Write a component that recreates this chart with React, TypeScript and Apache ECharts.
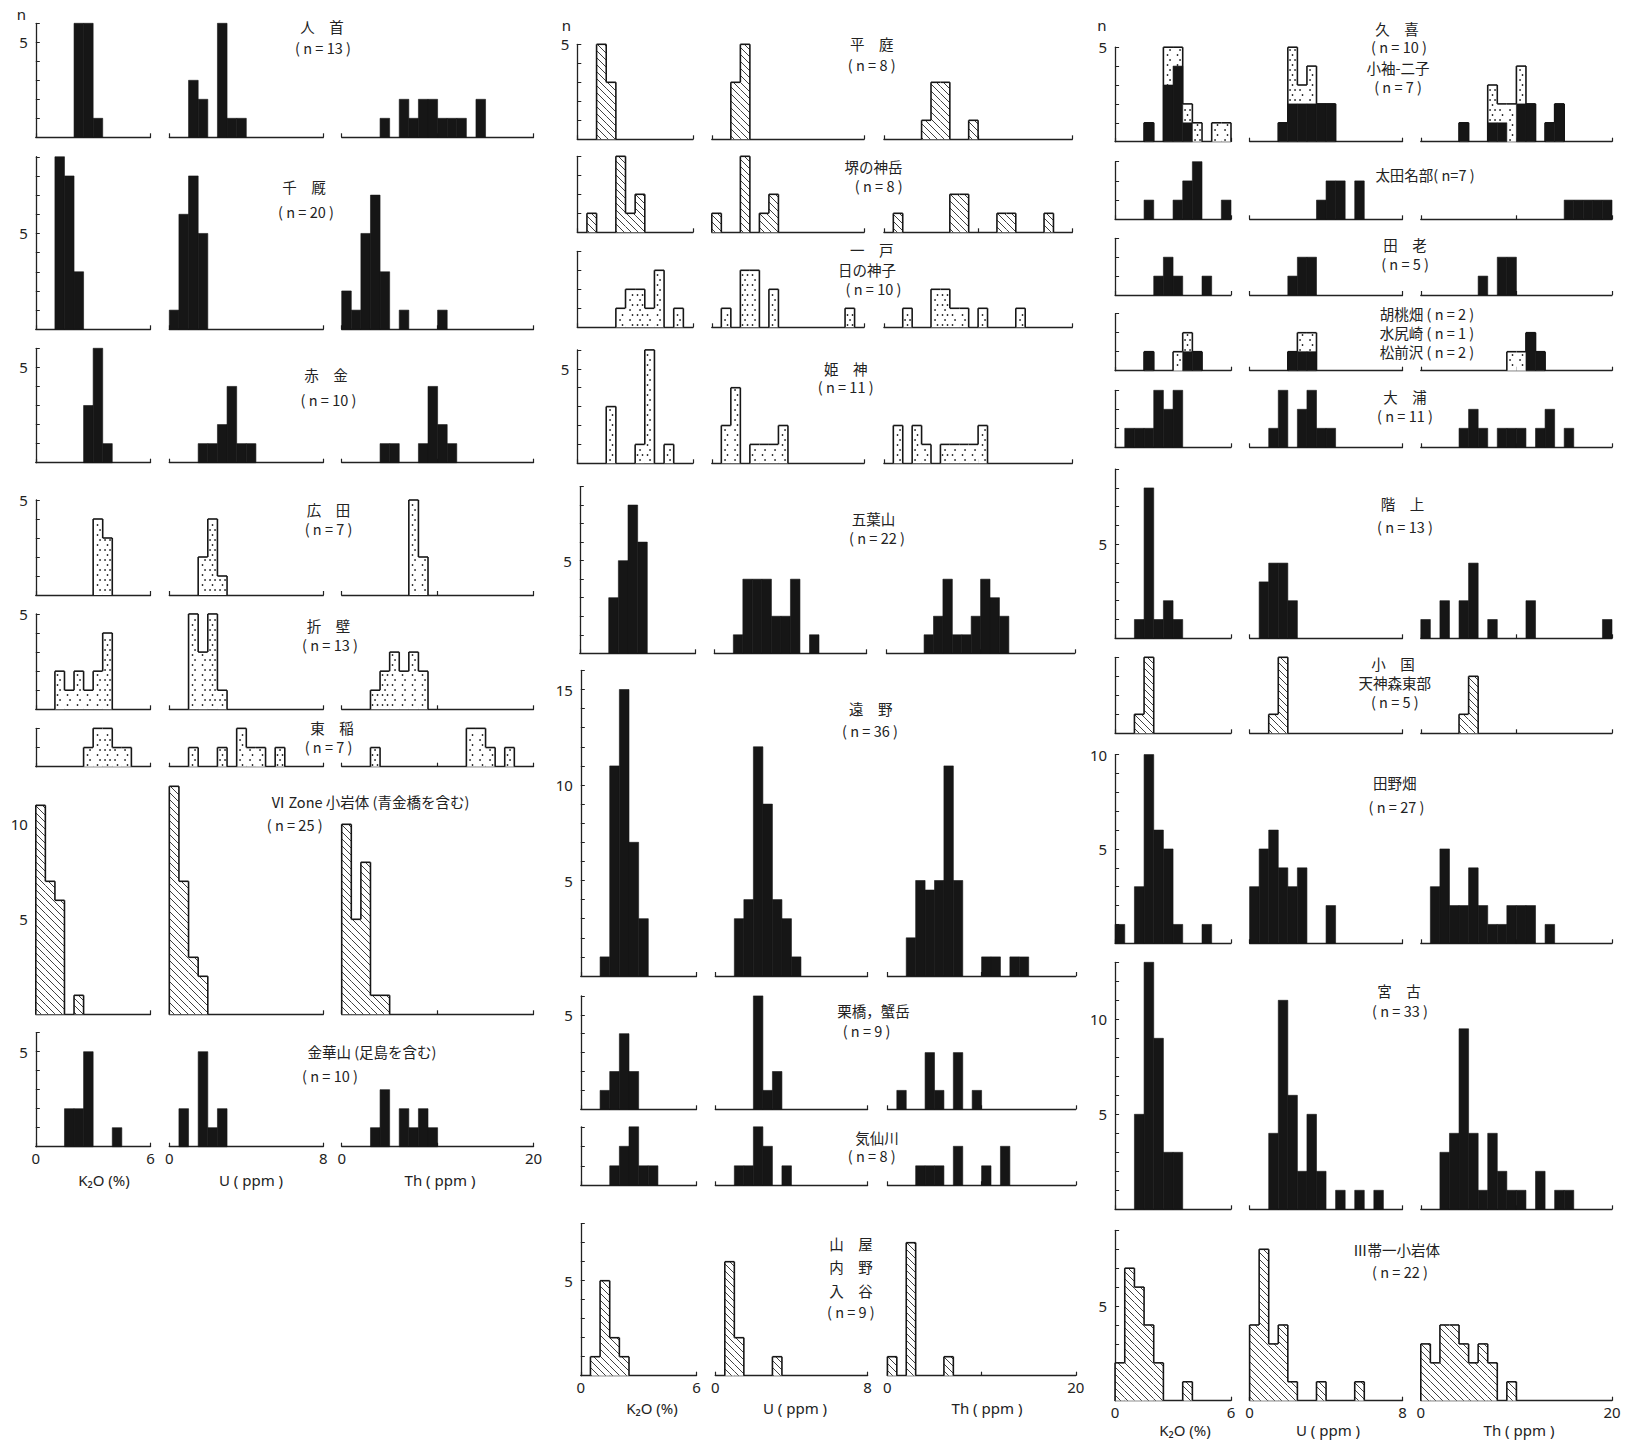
import React, { useEffect, useRef } from 'react';
import * as echarts from 'echarts';

// ---------- axis definitions ----------
const K2O_BIN = 0.5;
const U_BIN = 0.5;
const TH_BIN = 1;
const K2O_MAX = 6;
const U_MAX = 8;
const TH_MAX = 20;

// ---------- counts per bin (K2O: 0.5 %, U: 0.5 ppm, Th: 1 ppm) ----------
// Column 1
const hitokabeK = [0, 0, 0, 0, 6, 6, 1, 0, 0, 0, 0, 0];
const hitokabeU = [0, 0, 3, 2, 0, 6, 1, 1, 0, 0, 0, 0, 0, 0, 0, 0];
const hitokabeTh = [0, 0, 0, 0, 1, 0, 2, 1, 2, 2, 1, 1, 1, 0, 2, 0, 0, 0, 0, 0];

const senmayaK = [0, 0, 9, 8, 3, 0, 0, 0, 0, 0, 0, 0];
const senmayaU = [1, 6, 8, 5, 0, 0, 0, 0, 0, 0, 0, 0, 0, 0, 0, 0];
const senmayaTh = [2, 1, 5, 7, 3, 0, 1, 0, 0, 0, 1, 0, 0, 0, 0, 0, 0, 0, 0, 0];

const akaganeK = [0, 0, 0, 0, 0, 3, 6, 1, 0, 0, 0, 0];
const akaganeU = [0, 0, 0, 1, 1, 2, 4, 1, 1, 0, 0, 0, 0, 0, 0, 0];
const akaganeTh = [0, 0, 0, 0, 1, 1, 0, 0, 1, 4, 2, 1, 0, 0, 0, 0, 0, 0, 0, 0];

const hirodaK = [0, 0, 0, 0, 0, 0, 4, 3, 0, 0, 0, 0];
const hirodaU = [0, 0, 0, 2, 4, 1, 0, 0, 0, 0, 0, 0, 0, 0, 0, 0];
const hirodaTh = [0, 0, 0, 0, 0, 0, 0, 5, 2, 0, 0, 0, 0, 0, 0, 0, 0, 0, 0, 0];

const orikabeK = [0, 0, 2, 1, 2, 1, 2, 4, 0, 0, 0, 0];
const orikabeU = [0, 0, 5, 3, 5, 1, 0, 0, 0, 0, 0, 0, 0, 0, 0, 0];
const orikabeTh = [0, 0, 0, 1, 2, 3, 2, 3, 2, 0, 0, 0, 0, 0, 0, 0, 0, 0, 0, 0];

const tohineK = [0, 0, 0, 0, 0, 1, 2, 2, 1, 1, 0, 0];
const tohineU = [0, 0, 1, 0, 0, 1, 0, 2, 1, 1, 0, 1, 0, 0, 0, 0];
const tohineTh = [0, 0, 0, 1, 0, 0, 0, 0, 0, 0, 0, 0, 0, 2, 2, 1, 0, 1, 0, 0];

const zone6K = [11, 7, 6, 0, 1, 0, 0, 0, 0, 0, 0, 0];
const zone6U = [12, 7, 3, 2, 0, 0, 0, 0, 0, 0, 0, 0, 0, 0, 0, 0];
const zone6Th = [10, 5, 8, 1, 1, 0, 0, 0, 0, 0, 0, 0, 0, 0, 0, 0, 0, 0, 0, 0];

const kinkasanK = [0, 0, 0, 2, 2, 5, 0, 0, 1, 0, 0, 0];
const kinkasanU = [0, 2, 0, 5, 1, 2, 0, 0, 0, 0, 0, 0, 0, 0, 0, 0];
const kinkasanTh = [0, 0, 0, 1, 3, 0, 2, 1, 2, 1, 0, 0, 0, 0, 0, 0, 0, 0, 0, 0];

// Column 2
const hiraniwaK = [0, 0, 5, 3, 0, 0, 0, 0, 0, 0, 0, 0];
const hiraniwaU = [0, 0, 3, 5, 0, 0, 0, 0, 0, 0, 0, 0, 0, 0, 0, 0];
const hiraniwaTh = [0, 0, 0, 0, 1, 3, 3, 0, 0, 1, 0, 0, 0, 0, 0, 0, 0, 0, 0, 0];

const sakaiK = [0, 1, 0, 0, 4, 1, 2, 0, 0, 0, 0, 0];
const sakaiU = [1, 0, 0, 4, 0, 1, 2, 0, 0, 0, 0, 0, 0, 0, 0, 0];
const sakaiTh = [0, 1, 0, 0, 0, 0, 0, 2, 2, 0, 0, 0, 1, 1, 0, 0, 0, 1, 0, 0];

const ichinoheK = [0, 0, 0, 0, 1, 2, 2, 1, 3, 0, 1, 0];
const ichinoheU = [0, 1, 0, 3, 3, 0, 2, 0, 0, 0, 0, 0, 0, 0, 1, 0];
const ichinoheTh = [0, 0, 1, 0, 0, 2, 2, 1, 1, 0, 1, 0, 0, 0, 1, 0, 0, 0, 0, 0];

const himekamiK = [0, 0, 0, 3, 0, 0, 1, 6, 0, 1, 0, 0];
const himekamiU = [0, 2, 4, 0, 1, 1, 1, 2, 0, 0, 0, 0, 0, 0, 0, 0];
const himekamiTh = [0, 2, 0, 2, 1, 0, 1, 1, 1, 1, 2, 0, 0, 0, 0, 0, 0, 0, 0, 0];

const goyosanK = [0, 0, 0, 3, 5, 8, 6, 0, 0, 0, 0, 0];
const goyosanU = [0, 0, 1, 4, 4, 4, 2, 2, 4, 0, 1, 0, 0, 0, 0, 0];
const goyosanTh = [0, 0, 0, 0, 1, 2, 4, 1, 1, 2, 4, 3, 2, 0, 0, 0, 0, 0, 0, 0];

const tonoK = [0, 0, 1, 11, 15, 7, 3, 0, 0, 0, 0, 0];
const tonoU = [0, 0, 3, 4, 12, 9, 4, 3, 1, 0, 0, 0, 0, 0, 0, 0];
const tonoTh = [0, 0, 2, 5, 4.5, 5, 11, 5, 0, 0, 1, 1, 0, 1, 1, 0, 0, 0, 0, 0];

const kurihashiK = [0, 0, 1, 2, 4, 2, 0, 0, 0, 0, 0, 0];
const kurihashiU = [0, 0, 0, 0, 6, 1, 2, 0, 0, 0, 0, 0, 0, 0, 0, 0];
const kurihashiTh = [0, 1, 0, 0, 3, 1, 0, 3, 0, 1, 0, 0, 0, 0, 0, 0, 0, 0, 0, 0];

const kesenK = [0, 0, 0, 1, 2, 3, 1, 1, 0, 0, 0, 0];
const kesenU = [0, 0, 1, 1, 3, 2, 0, 1, 0, 0, 0, 0, 0, 0, 0, 0];
const kesenTh = [0, 0, 0, 1, 1, 1, 0, 2, 0, 0, 1, 0, 2, 0, 0, 0, 0, 0, 0, 0];

const yamayaK = [0, 1, 5, 2, 1, 0, 0, 0, 0, 0, 0, 0];
const yamayaU = [0, 6, 2, 0, 0, 0, 1, 0, 0, 0, 0, 0, 0, 0, 0, 0];
const yamayaTh = [1, 0, 7, 0, 0, 0, 1, 0, 0, 0, 0, 0, 0, 0, 0, 0, 0, 0, 0, 0];

// Column 3
const kukiK = [0, 0, 0, 1, 0, 3, 4, 1, 0, 0, 0, 0];
const kukiU = [0, 0, 0, 1, 2, 2, 2, 2, 2, 0, 0, 0, 0, 0, 0, 0];
const kukiTh = [0, 0, 0, 0, 1, 0, 0, 1, 1, 0, 2, 2, 0, 1, 2, 0, 0, 0, 0, 0];
const kosodeK = [0, 0, 0, 0, 0, 2, 1, 1, 1, 0, 1, 1];
const kosodeU = [0, 0, 0, 0, 3, 1, 2, 0, 0, 0, 0, 0, 0, 0, 0, 0];
const kosodeTh = [0, 0, 0, 0, 0, 0, 0, 2, 1, 2, 2, 0, 0, 0, 0, 0, 0, 0, 0, 0];

const otanabeK = [0, 0, 0, 1, 0, 0, 1, 2, 3, 0, 0, 1];
const otanabeU = [0, 0, 0, 0, 0, 0, 0, 1, 2, 2, 0, 2, 0, 0, 0, 0];
const otanabeTh = [0, 0, 0, 0, 0, 0, 0, 0, 0, 0, 0, 0, 0, 0, 0, 1, 1, 1, 1, 1];

const taroK = [0, 0, 0, 0, 1, 2, 1, 0, 0, 1, 0, 0];
const taroU = [0, 0, 0, 0, 1, 2, 2, 0, 0, 0, 0, 0, 0, 0, 0, 0];
const taroTh = [0, 0, 0, 0, 0, 0, 1, 0, 2, 2, 0, 0, 0, 0, 0, 0, 0, 0, 0, 0];

const kurumiK = [0, 0, 0, 1, 0, 0, 0, 1, 1, 0, 0, 0];
const kurumiU = [0, 0, 0, 0, 1, 1, 1, 0, 0, 0, 0, 0, 0, 0, 0, 0];
const kurumiTh = [0, 0, 0, 0, 0, 0, 0, 0, 0, 0, 0, 2, 1, 0, 0, 0, 0, 0, 0, 0];
const mizushiriK = [0, 0, 0, 0, 0, 0, 1, 1, 0, 0, 0, 0];
const mizushiriU = [0, 0, 0, 0, 0, 1, 1, 0, 0, 0, 0, 0, 0, 0, 0, 0];
const mizushiriTh = [0, 0, 0, 0, 0, 0, 0, 0, 0, 1, 1, 0, 0, 0, 0, 0, 0, 0, 0, 0];

const ouraK = [0, 1, 1, 1, 3, 2, 3, 0, 0, 0, 0, 0];
const ouraU = [0, 0, 1, 3, 0, 2, 3, 1, 1, 0, 0, 0, 0, 0, 0, 0];
const ouraTh = [0, 0, 0, 0, 1, 2, 1, 0, 1, 1, 1, 0, 1, 2, 0, 1, 0, 0, 0, 0];

const hashikamiK = [0, 0, 1, 8, 1, 2, 1, 0, 0, 0, 0, 0];
const hashikamiU = [0, 3, 4, 4, 2, 0, 0, 0, 0, 0, 0, 0, 0, 0, 0, 0];
const hashikamiTh = [1, 0, 2, 0, 2, 4, 0, 1, 0, 0, 0, 2, 0, 0, 0, 0, 0, 0, 0, 1];

const oguniK = [0, 0, 1, 4, 0, 0, 0, 0, 0, 0, 0, 0];
const oguniU = [0, 0, 1, 4, 0, 0, 0, 0, 0, 0, 0, 0, 0, 0, 0, 0];
const oguniTh = [0, 0, 0, 0, 1, 3, 0, 0, 0, 0, 0, 0, 0, 0, 0, 0, 0, 0, 0, 0];

const tanohataK = [1, 0, 3, 10, 6, 5, 1, 0, 0, 1, 0, 0];
const tanohataU = [3, 5, 6, 4, 3, 4, 0, 0, 2, 0, 0, 0, 0, 0, 0, 0];
const tanohataTh = [0, 3, 5, 2, 2, 4, 2, 1, 1, 2, 2, 2, 0, 1, 0, 0, 0, 0, 0, 0];

const miyakoK = [0, 0, 5, 13, 9, 3, 3, 0, 0, 0, 0, 0];
const miyakoU = [0, 0, 4, 11, 6, 2, 5, 2, 0, 1, 0, 1, 0, 1, 0, 0];
const miyakoTh = [0, 0, 3, 4, 9.5, 4, 1, 4, 2, 1, 1, 0, 2, 0, 1, 1, 0, 0, 0, 0];

const zone3K = [2, 7, 6, 4, 2, 0, 0, 1, 0, 0, 0, 0];
const zone3U = [4, 8, 3, 4, 1, 0, 0, 1, 0, 0, 0, 1, 0, 0, 0, 0];
const zone3Th = [3, 2, 4, 4, 3, 2, 3, 2, 0, 1, 0, 0, 0, 0, 0, 0, 0, 0, 0, 0];

// ---------- layout (pixels) ----------
const COL_X = [
  { k: [35.8, 150.5], u: [169.3, 323.3], th: [341.7, 533.5] },
  { k: [580.8, 696.5], u: [715.3, 867.6], th: [887.4, 1075.8] },
  { k: [1115.1, 1231], u: [1249.6, 1402.5], th: [1420.8, 1612] },
];

type Panel = {
  col: number; base: number; pc: number; ymax: number; dx?: number;
  fill: 'solid' | 'dots' | 'hatch';
  k: number[]; u: number[]; th: number[];
  over?: number[][]; xLabels?: boolean;
};

const PANELS: Panel[] = [
  { col: 0, base: 137.3, pc: 19, ymax: 6, fill: 'solid', k: hitokabeK, u: hitokabeU, th: hitokabeTh },
  { col: 0, base: 329.3, pc: 19.17, ymax: 9, fill: 'solid', k: senmayaK, u: senmayaU, th: senmayaTh },
  { col: 0, base: 462.7, pc: 19.07, ymax: 6, fill: 'solid', k: akaganeK, u: akaganeU, th: akaganeTh },
  { col: 0, base: 595, pc: 19, ymax: 5, fill: 'dots', k: hirodaK, u: hirodaU, th: hirodaTh },
  { col: 0, base: 709.3, pc: 19.07, ymax: 5, fill: 'dots', k: orikabeK, u: orikabeU, th: orikabeTh },
  { col: 0, base: 766.7, pc: 19.17, ymax: 2, fill: 'dots', k: tohineK, u: tohineU, th: tohineTh },
  { col: 0, base: 1014.3, pc: 19, ymax: 11, fill: 'hatch', k: zone6K, u: zone6U, th: zone6Th },
  { col: 0, base: 1146.7, pc: 19, ymax: 6, fill: 'solid', k: kinkasanK, u: kinkasanU, th: kinkasanTh, xLabels: true },

  { col: 1, base: 139.3, pc: 19, ymax: 5, dx: -3.5, fill: 'hatch', k: hiraniwaK, u: hiraniwaU, th: hiraniwaTh },
  { col: 1, base: 232.3, pc: 19, ymax: 4, dx: -3.5, fill: 'hatch', k: sakaiK, u: sakaiU, th: sakaiTh },
  { col: 1, base: 327.3, pc: 19, ymax: 4, dx: -3.5, fill: 'dots', k: ichinoheK, u: ichinoheU, th: ichinoheTh },
  { col: 1, base: 463.3, pc: 18.9, ymax: 6, dx: -3.5, fill: 'dots', k: himekamiK, u: himekamiU, th: himekamiTh },
  { col: 1, base: 653.3, pc: 18.53, ymax: 9, dx: -1, fill: 'solid', k: goyosanK, u: goyosanU, th: goyosanTh },
  { col: 1, base: 976, pc: 19.1, ymax: 16, fill: 'solid', k: tonoK, u: tonoU, th: tonoTh },
  { col: 1, base: 1109.3, pc: 18.9, ymax: 6, fill: 'solid', k: kurihashiK, u: kurihashiU, th: kurihashiTh },
  { col: 1, base: 1185.3, pc: 19.5, ymax: 3, fill: 'solid', k: kesenK, u: kesenU, th: kesenTh },
  { col: 1, base: 1375.7, pc: 19, ymax: 8, fill: 'hatch', k: yamayaK, u: yamayaU, th: yamayaTh, xLabels: true },

  { col: 2, base: 141.7, pc: 18.9, ymax: 5, fill: 'solid', k: kukiK, u: kukiU, th: kukiTh, over: [kosodeK, kosodeU, kosodeTh] },
  { col: 2, base: 219.3, pc: 19.2, ymax: 3, fill: 'solid', k: otanabeK, u: otanabeU, th: otanabeTh },
  { col: 2, base: 295, pc: 18.9, ymax: 3, fill: 'solid', k: taroK, u: taroU, th: taroTh },
  { col: 2, base: 370.7, pc: 19, ymax: 3, fill: 'solid', k: kurumiK, u: kurumiU, th: kurumiTh, over: [mizushiriK, mizushiriU, mizushiriTh] },
  { col: 2, base: 447.3, pc: 19, ymax: 3, fill: 'solid', k: ouraK, u: ouraU, th: ouraTh },
  { col: 2, base: 638.3, pc: 18.8, ymax: 9, fill: 'solid', k: hashikamiK, u: hashikamiU, th: hashikamiTh },
  { col: 2, base: 733.3, pc: 19, ymax: 4, fill: 'hatch', k: oguniK, u: oguniU, th: oguniTh },
  { col: 2, base: 943.3, pc: 18.87, ymax: 10, fill: 'solid', k: tanohataK, u: tanohataU, th: tanohataTh },
  { col: 2, base: 1209.3, pc: 19, ymax: 13, fill: 'solid', k: miyakoK, u: miyakoU, th: miyakoTh },
  { col: 2, base: 1400.7, pc: 18.93, ymax: 9, fill: 'hatch', k: zone3K, u: zone3U, th: zone3Th, xLabels: true },
];

// titles: [text, x, y]
const TITLES: [string, number, number][] = [
  ['人　首', 322, 26.7], ['( n = 13 )', 323, 47.7],
  ['千　厩', 304, 186.7], ['( n = 20 )', 306, 211.7],
  ['赤　金', 326, 374], ['( n = 10 )', 328.5, 399],
  ['広　田', 328.5, 509.3], ['( n = 7 )', 328.5, 528.3],
  ['折　壁', 328.5, 625], ['( n = 13 )', 330, 644],
  ['東　稲', 332, 727.5], ['( n = 7 )', 328.5, 746.2],
  ['Ⅵ Zone 小岩体 (青金橋を含む)', 370, 801.7], ['( n = 25 )', 294.7, 824],
  ['金華山 (足島を含む)', 372, 1051.7], ['( n = 10 )', 330, 1075],

  ['平　庭', 871.7, 43.3], ['( n = 8 )', 871.7, 64.3],
  ['堺の神岳', 873.5, 166.7], ['( n = 8 )', 878.7, 185.7],
  ['一　戸', 871.7, 249], ['日の神子', 867, 269.5], ['( n = 10 )', 873.5, 288.5],
  ['姫　神', 845.7, 368], ['( n = 11 )', 845.7, 386.9],
  ['五葉山', 873.5, 518.3], ['( n = 22 )', 877, 537],
  ['遠　野', 870.7, 708.3], ['( n = 36 )', 870, 730],
  ['栗橋，蟹岳', 873.5, 1010.7], ['( n = 9 )', 866.5, 1030],
  ['気仙川', 877, 1137], ['( n = 8 )', 871.7, 1155.9],
  ['山　屋', 850.9, 1243.3], ['内　野', 850.9, 1266.7], ['入　谷', 850.9, 1290.7], ['( n = 9 )', 850.9, 1311],

  ['久　喜', 1397, 28], ['( n = 10 )', 1399, 46.6], ['小袖-二子', 1398, 67.4], ['( n = 7 )', 1398, 86.2],
  ['太田名部( n=7 )', 1425, 174.5],
  ['田　老', 1405, 244.3], ['( n = 5 )', 1405, 263],
  ['胡桃畑 ( n = 2 )', 1427, 313.3], ['水尻崎 ( n = 1 )', 1427, 332.7], ['松前沢 ( n = 2 )', 1427, 351.7],
  ['大　浦', 1405, 396.5], ['( n = 11 )', 1405, 415],
  ['階　上', 1402.5, 503], ['( n = 13 )', 1405, 526],
  ['小　国', 1393, 663.5], ['天神森東部', 1394.8, 682.7], ['( n = 5 )', 1394.8, 701.9],
  ['田野畑', 1394.8, 782.2], ['( n = 27 )', 1396.5, 806.7],
  ['宮　古', 1399, 990], ['( n = 33 )', 1400, 1010.7],
  ['Ⅲ帯一小岩体', 1396.5, 1249], ['( n = 22 )', 1400, 1271.7],
];

const AXIS_NAMES: [string, number, number][] = [
  ['K₂O (%)', 104, 1180], ['U ( ppm )', 251, 1180], ['Th ( ppm )', 440, 1180],
  ['K₂O (%)', 652, 1408], ['U ( ppm )', 795, 1408], ['Th ( ppm )', 987, 1408],
  ['K₂O (%)', 1185, 1430], ['U ( ppm )', 1328, 1430], ['Th ( ppm )', 1519, 1430],
];

const N_LABELS: [number, number][] = [[21.5, 14], [566.5, 25], [1102, 24.5]];

// ---------- rendering helpers ----------
const INK = '#161616';
const HATCH_STEP = 7;
const DOT_DX = 5;
const DOT_DY = 5;
const CJK = '"Noto Sans CJK JP", "Noto Sans", sans-serif';
const TITLE_SIZE = 14.5;

function binItems(counts: number[], binW: number) {
  const items: number[][] = [];
  counts.forEach((c, i) => {
    if (c > 0) items.push([i * binW, (i + 1) * binW, c, counts[i - 1] || 0, counts[i + 1] || 0]);
  });
  return items;
}

function makeRenderer(kind: string) {
  return function (_params: any, api: any) {
    const x0 = api.value(0), x1 = api.value(1), h = api.value(2), hp = api.value(3), hn = api.value(4);
    const tl = api.coord([x0, h]);
    const br = api.coord([x1, 0]);
    const L = tl[0], T = tl[1], R = br[0], B = br[1];
    const ch: any[] = [];
    if (kind === 'solid') {
      ch.push({ type: 'rect', shape: { x: L, y: T, width: R - L, height: B - T }, style: { fill: INK, stroke: INK, lineWidth: 0.6 } });
      return { type: 'group', children: ch };
    }
    ch.push({ type: 'rect', shape: { x: L, y: T, width: R - L, height: B - T }, style: { fill: '#fff' } });
    if (kind === 'hatch') {
      const cMin = Math.ceil((T - R) / HATCH_STEP) * HATCH_STEP;
      for (let c = cMin; c <= B - L; c += HATCH_STEP) {
        const xa = Math.max(L, T - c);
        const xb = Math.min(R, B - c);
        if (xb - xa > 0.5) {
          ch.push({ type: 'line', shape: { x1: xa, y1: xa + c, x2: xb, y2: xb + c }, style: { stroke: '#2a2a2a', lineWidth: 0.9 } });
        }
      }
    } else {
      const k0 = Math.ceil((T + 2) / DOT_DY), k1 = Math.floor((B - 1.5) / DOT_DY);
      for (let k = k0; k <= k1; k++) {
        const y = k * DOT_DY;
        const off = (((k % 2) + 2) % 2) * DOT_DX / 2;
        const j0 = Math.ceil((L + 2 - off) / DOT_DX), j1 = Math.floor((R - 2 - off) / DOT_DX);
        for (let j = j0; j <= j1; j++) {
          ch.push({ type: 'circle', shape: { cx: j * DOT_DX + off, cy: y, r: 0.85 }, style: { fill: '#222' } });
        }
      }
    }
    const os = { stroke: INK, lineWidth: 1.6 };
    ch.push({ type: 'line', shape: { x1: L, y1: T, x2: R, y2: T }, style: os });
    if (h > hp) {
      const yp = api.coord([x0, hp])[1];
      ch.push({ type: 'line', shape: { x1: L, y1: T, x2: L, y2: yp }, style: os });
    }
    if (h > hn) {
      const yn = api.coord([x1, hn])[1];
      ch.push({ type: 'line', shape: { x1: R, y1: T, x2: R, y2: yn }, style: os });
    }
    return { type: 'group', children: ch };
  };
}

function buildOption() {
  const grid: any[] = [];
  const xAxis: any[] = [];
  const yAxis: any[] = [];
  const series: any[] = [];
  const axisDefs = [
    { key: 'k', max: K2O_MAX, bin: K2O_BIN, interval: K2O_MAX },
    { key: 'u', max: U_MAX, bin: U_BIN, interval: U_MAX },
    { key: 'th', max: TH_MAX, bin: TH_BIN, interval: 10 },
  ];
  PANELS.forEach((p) => {
    axisDefs.forEach((a, j) => {
      const idx = grid.length;
      const xr = (COL_X[p.col] as any)[a.key];
      const dx = p.dx || 0;
      grid.push({
        left: xr[0] + dx, width: xr[1] - xr[0],
        top: p.base - p.ymax * p.pc, height: p.ymax * p.pc,
        containLabel: false,
      });
      xAxis.push({
        gridIndex: idx, type: 'value', min: 0, max: a.max, interval: a.interval,
        axisLine: { show: true, onZero: false, lineStyle: { color: '#222', width: 1.3 } },
        axisTick: { show: true, inside: true, length: 4, lineStyle: { color: '#222', width: 1.2 } },
        splitLine: { show: false },
        axisLabel: {
          show: !!p.xLabels, margin: 4, fontSize: 15, color: '#222', fontFamily: '"Noto Sans", sans-serif',
          formatter: (v: number) => (v === 10 && a.max === 20 ? '' : String(v)),
          showMinLabel: true, showMaxLabel: true,
        },
      });
      yAxis.push({
        gridIndex: idx, type: 'value', min: 0, max: p.ymax, interval: 1,
        show: j === 0,
        axisLine: { show: true, onZero: false, lineStyle: { color: '#222', width: 1.3 } },
        axisTick: { show: true, inside: true, length: 4, lineStyle: { color: '#222', width: 1 } },
        splitLine: { show: false },
        axisLabel: {
          margin: 8, fontSize: 15, lineHeight: 15, color: '#222', fontFamily: '"Noto Sans", sans-serif',
          formatter: (v: number) => (v > 0 && v % 5 === 0 ? String(v) : ''),
        },
      });
      const counts: number[] = (p as any)[a.key];
      if (p.over) {
        const extra = p.over[j];
        const total = counts.map((c, i) => c + (extra[i] || 0));
        series.push({
          type: 'custom', coordinateSystem: 'cartesian2d', xAxisIndex: idx, yAxisIndex: idx,
          silent: true, renderItem: makeRenderer('dots'), data: binItems(total, a.bin),
        });
      }
      series.push({
        type: 'custom', coordinateSystem: 'cartesian2d', xAxisIndex: idx, yAxisIndex: idx,
        silent: true, renderItem: makeRenderer(p.fill), data: binItems(counts, a.bin),
      });
    });
  });

  const graphic: any[] = [];
  TITLES.forEach(([t, x, y]) => {
    graphic.push({
      type: 'text', x, y, silent: true,
      style: { text: t, fontSize: TITLE_SIZE, lineHeight: TITLE_SIZE, fontFamily: CJK, fill: '#222', align: 'center', verticalAlign: 'middle' },
    });
  });
  AXIS_NAMES.forEach(([t, x, y]) => {
    graphic.push({
      type: 'text', x, y, silent: true,
      style: { text: t, fontSize: 15, lineHeight: 15, fontFamily: '"Noto Sans", sans-serif', fill: '#222', align: 'center', verticalAlign: 'middle' },
    });
  });
  N_LABELS.forEach(([x, y]) => {
    graphic.push({
      type: 'text', x, y, silent: true,
      style: { text: 'n', fontSize: 15, lineHeight: 14, fontFamily: '"Noto Sans", sans-serif', fill: '#222', align: 'center', verticalAlign: 'middle' },
    });
  });

  return {
    animation: false,
    backgroundColor: '#ffffff',
    grid, xAxis, yAxis, series, graphic,
  };
}

export default function App() {
  const ref = useRef<HTMLDivElement>(null);
  useEffect(() => {
    document.body.style.margin = '0';
    const chart = echarts.init(ref.current as HTMLDivElement, undefined, { renderer: 'svg' });
    chart.setOption(buildOption() as any);
    return () => chart.dispose();
  }, []);
  return <div ref={ref} style={{ position: 'absolute', left: 0, top: 0, width: 1630, height: 1442, background: '#fff' }} />;
}
